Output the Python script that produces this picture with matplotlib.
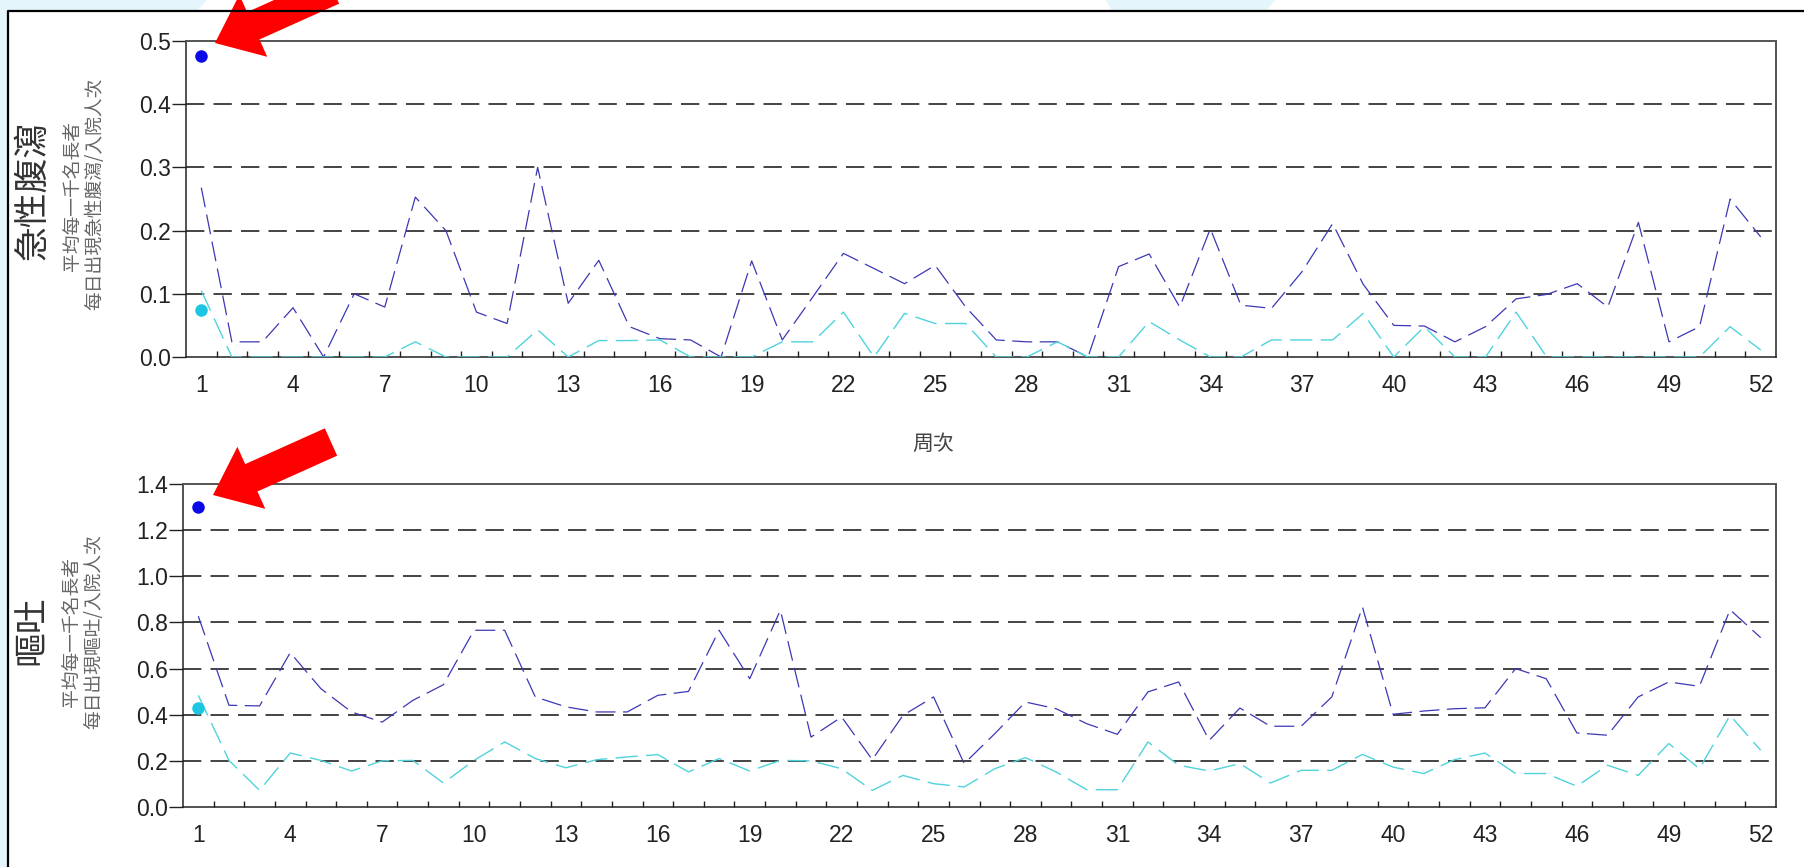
import numpy as np
import matplotlib
matplotlib.use("Agg")
import matplotlib.pyplot as plt
from matplotlib.patches import FancyArrow, Polygon, Rectangle

plt.rcParams['font.family'] = ['Liberation Sans', 'Noto Sans CJK TC', 'DejaVu Sans']
cjk = ['Noto Sans CJK TC', 'DejaVu Sans']

## data
weeks = np.arange(1, 53)
week_labels = list(range(1, 53, 3))

diarrhoea_dark = [0.268, 0.024, 0.024, 0.078, 0.0, 0.100, 0.079, 0.253, 0.200, 0.071,
                  0.053, 0.300, 0.085, 0.153, 0.048, 0.029, 0.027, 0.0, 0.152, 0.027,
                  0.095, 0.164, 0.140, 0.116, 0.145, 0.079, 0.027, 0.024, 0.024, 0.0,
                  0.143, 0.163, 0.079, 0.203, 0.082, 0.077, 0.135, 0.211, 0.115, 0.050,
                  0.049, 0.024, 0.048, 0.092, 0.099, 0.116, 0.079, 0.213, 0.024, 0.048,
                  0.250, 0.190]
diarrhoea_cyan = [0.105, 0.0, 0.0, 0.0, 0.0, 0.0, 0.0, 0.024, 0.0, 0.0,
                  0.0, 0.043, 0.0, 0.026, 0.026, 0.027, 0.0, 0.0, 0.0, 0.024,
                  0.024, 0.071, 0.0, 0.069, 0.053, 0.053, 0.0, 0.0, 0.024, 0.0,
                  0.0, 0.056, 0.027, 0.0, 0.0, 0.027, 0.027, 0.027, 0.069, 0.0,
                  0.048, 0.0, 0.0, 0.071, 0.0, 0.0, 0.0, 0.0, 0.0, 0.0,
                  0.048, 0.011]
diarrhoea_dots = [0.477, 0.075]   # blue, cyan at week 1

vomit_dark = [0.827, 0.441, 0.438, 0.669, 0.513, 0.412, 0.368, 0.462, 0.530, 0.766,
              0.766, 0.477, 0.434, 0.412, 0.412, 0.484, 0.501, 0.766, 0.556, 0.853,
              0.303, 0.390, 0.205, 0.397, 0.477, 0.188, 0.318, 0.455, 0.426, 0.361,
              0.315, 0.499, 0.542, 0.289, 0.429, 0.350, 0.350, 0.477, 0.867, 0.402,
              0.416, 0.426, 0.430, 0.600, 0.556, 0.321, 0.311, 0.477, 0.542, 0.523,
              0.855, 0.734]
vomit_cyan = [0.484, 0.202, 0.072, 0.234, 0.202, 0.156, 0.200, 0.202, 0.104, 0.202,
              0.282, 0.210, 0.170, 0.205, 0.217, 0.227, 0.152, 0.210, 0.156, 0.202,
              0.200, 0.166, 0.072, 0.137, 0.101, 0.087, 0.166, 0.214, 0.152, 0.075,
              0.075, 0.282, 0.181, 0.156, 0.188, 0.104, 0.159, 0.159, 0.228, 0.173,
              0.145, 0.205, 0.234, 0.145, 0.145, 0.090, 0.181, 0.137, 0.275, 0.166,
              0.397, 0.246]
vomit_dots = [1.30, 0.43]

dark_col = '#3c38b4'
cyan_col = '#4fd3dc'
dot_blue = '#0a0ae6'
dot_cyan = '#1cc6e2'


def style_axes(ax, ymax, ystep):
    ax.set_xlim(0.5, 52.5)
    ax.set_ylim(0, ymax)
    yt = np.round(np.arange(0, ymax + ystep / 2, ystep), 2)
    ax.set_yticks(yt)
    ax.set_yticklabels([f"{v:.1f}" for v in yt])
    ax.set_xticks(week_labels)
    ax.set_xticks(np.arange(1.5, 52.5, 1.0), minor=True)
    ax.tick_params(axis='x', which='major', length=0, pad=12, labelsize=16.5, labelcolor='#222')
    ax.tick_params(axis='x', which='minor', direction='in', length=4.5, width=1, color='#222')
    ax.tick_params(axis='y', length=10, width=1, pad=1, labelsize=16.5, labelcolor='#222', color='#222')
    for y in yt[1:-1]:
        ax.axhline(y, color='#111', lw=1.1, ls=(0, (12, 6)), zorder=1)
    for s in ['left', 'right', 'bottom']:
        ax.spines[s].set_color('#222')
        ax.spines[s].set_linewidth(1.1)
    ax.spines['top'].set_color('#555')
    ax.spines['top'].set_linewidth(1.4)


fig = plt.figure(figsize=(18.04, 8.67), dpi=100)
fig.patch.set_facecolor('white')

## top panel - diarrhoea
ax1 = fig.add_axes([186 / 1804, 1 - 357 / 867, 1590 / 1804, 316 / 867])
ax1.plot(weeks, diarrhoea_dark, color=dark_col, lw=0.9, ls=(0, (16, 6)), zorder=3)
ax1.plot(weeks, diarrhoea_cyan, color=cyan_col, lw=1.0, ls=(0, (16, 6)), zorder=3)
ax1.plot([1], [diarrhoea_dots[0]], 'o', color=dot_blue, ms=9, mec='none', zorder=4, clip_on=False)
ax1.plot([1], [diarrhoea_dots[1]], 'o', color=dot_cyan, ms=9, mec='none', zorder=4, clip_on=False)
style_axes(ax1, 0.5, 0.1)
ax1.set_xlabel('周次', family=cjk, fontsize=15, color='#444', labelpad=26, x=0.47)

## bottom panel - vomiting
ax2 = fig.add_axes([183 / 1804, 1 - 807 / 867, 1593 / 1804, 323 / 867])
ax2.plot(weeks, vomit_dark, color=dark_col, lw=0.9, ls=(0, (16, 6)), zorder=3)
ax2.plot(weeks, vomit_cyan, color=cyan_col, lw=1.0, ls=(0, (16, 6)), zorder=3)
ax2.plot([1], [vomit_dots[0]], 'o', color=dot_blue, ms=9, mec='none', zorder=4, clip_on=False)
ax2.plot([1], [vomit_dots[1]], 'o', color=dot_cyan, ms=9, mec='none', zorder=4, clip_on=False)
style_axes(ax2, 1.4, 0.2)
ax2.set_xlabel('周次', family=cjk, fontsize=15, color='#444', labelpad=18, x=0.471)

## y labels (pixel positions converted to figure fraction)
def ftext(x, y, s, **kw):
    fig.text(x / 1804, 1 - y / 867, s, rotation=90, ha='center', va='center', family=cjk, **kw)

ftext(33, 190, '急性腹瀉', fontsize=25, color='#333')
ftext(72, 196, '平均每一千名長者', fontsize=13.5, color='#666')
ftext(95, 194, '每日出現急性腹瀉/入院人次', fontsize=13.5, color='#666')

ftext(33, 630, '嘔吐', fontsize=25, color='#333')
ftext(71, 632, '平均每一千名長者', fontsize=13.5, color='#666')
ftext(94, 632, '每日出現嘔吐/入院人次', fontsize=13.5, color='#666')

## overlay: page background, frame and red arrows
ov = fig.add_axes([0, 0, 1, 1], zorder=10)
ov.set_xlim(0, 1804)
ov.set_ylim(867, 0)
ov.axis('off')
ov.patch.set_alpha(0)

bg = '#e5f5fc'
ov.add_patch(Rectangle((0, 0), 8, 867, color=bg, lw=0))
ov.add_patch(Polygon([(0, 0), (207, 0), (197, 11), (0, 11)], closed=True, color=bg, lw=0))
ov.add_patch(Polygon([(1106, 0), (1275, 0), (1266, 11), (1112, 11)], closed=True, color=bg, lw=0))
ov.plot([8, 8, 1804], [867, 11, 11], color='black', lw=1.6, solid_capstyle='butt')

for tip_x, tip_y in [(215, 43), (213, 495)]:
    ov.add_patch(FancyArrow(tip_x + 118, tip_y - 53, -118, 53, width=30, head_width=68,
                            head_length=42, length_includes_head=True, color='#ff0000', lw=0))

fig.savefig('out.png', dpi=100)
